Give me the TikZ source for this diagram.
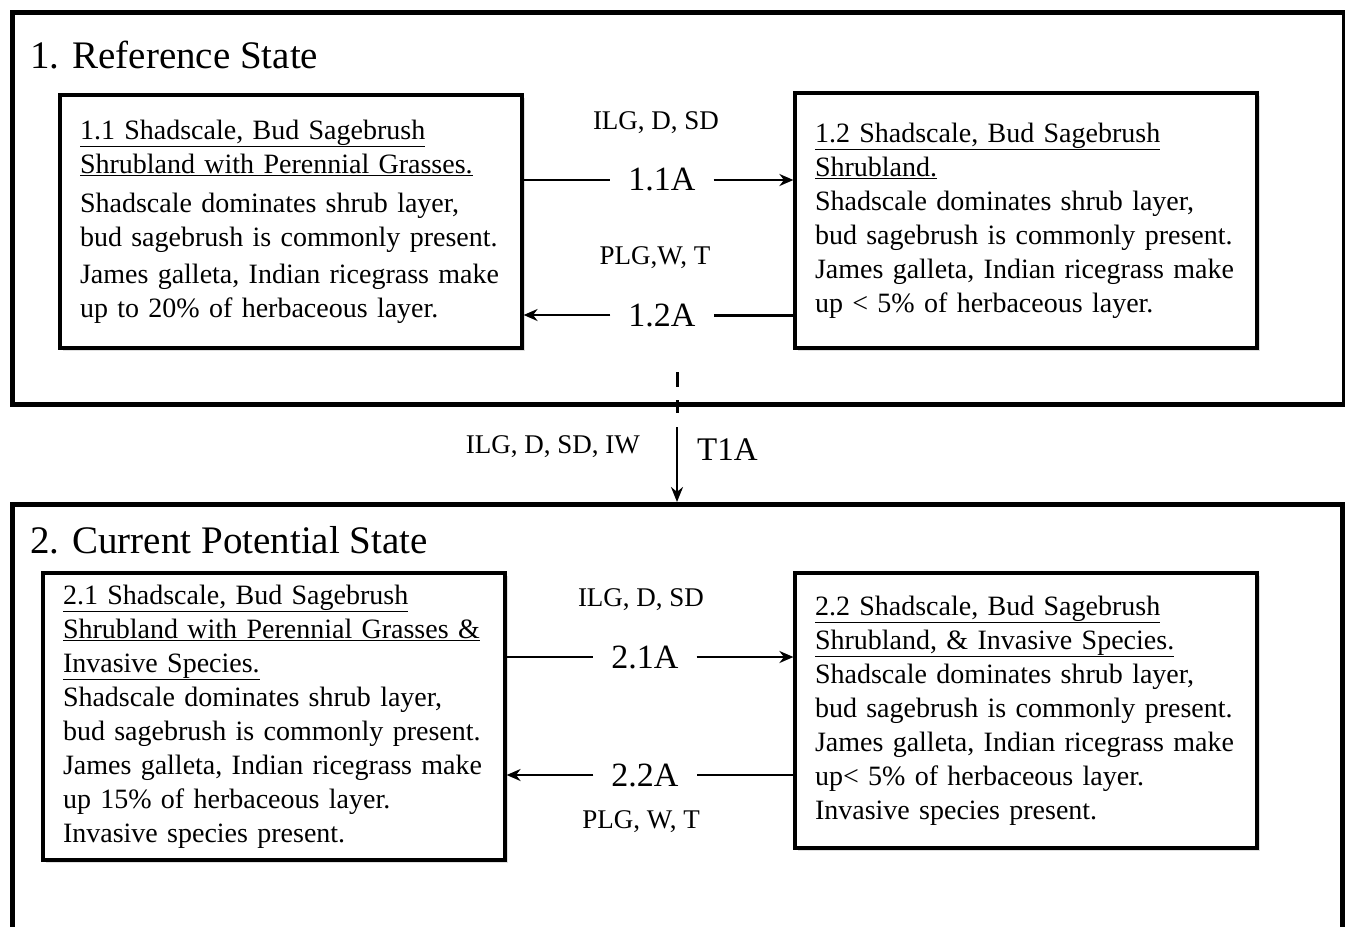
\documentclass[tikz,border=0pt]{standalone}
\usepackage{fontspec}
\setmainfont{Liberation Serif}
\usetikzlibrary{arrows.meta,shadows}
\begin{document}
\begin{tikzpicture}[x=1pt,y=-1pt,
  statebox/.style={draw=black,line width=5pt,anchor=north west,inner sep=0pt},
  phase/.style={draw=black,line width=3.2pt,fill=white,align=left,inner xsep=20pt,inner ysep=0pt,
     font=\fontsize{28}{34}\selectfont,
     drop shadow={opacity=0.25,shadow xshift=3pt,shadow yshift=-3pt}},
  title/.style={anchor=west,inner sep=0pt,font=\fontsize{39}{42}\selectfont},
  cause/.style={inner sep=0pt,font=\fontsize{27}{30}\selectfont},
  code/.style={inner xsep=18pt,inner ysep=0pt,font=\fontsize{34}{36}\selectfont},
  conn/.style={line width=2pt},
  arr/.style={conn,-{Stealth[length=14pt,width=12pt]}}
]
\useasboundingbox (0,0) rectangle (1345,927);
\fill[white] (0,0) rectangle (1345,927);

% outer states
\node[statebox,minimum width=1332pt,minimum height=392pt] (s1) at (10,10) {};
\node[statebox,minimum width=1330pt,minimum height=445pt] (s2) at (10,502) {};
\node[title] (t1) at (30,55) {1. Reference State};
\node[title] (t2) at (30,540) {2. Current Potential State};

% community phases
\node[phase,text width=422pt,minimum height=253pt] (b11) at (291,221.5)
 {\underline{1.1 Shadscale, Bud Sagebrush}\\
  \underline{Shrubland with Perennial Grasses.}\\[5pt]
  Shadscale dominates shrub layer,\\
  bud sagebrush is commonly present.\\[3pt]
  James galleta, Indian ricegrass make\\
  up to 20\% of herbaceous layer.};
\node[phase,text width=422pt,minimum height=255pt] (b12) at (1026,220.5)
 {\underline{1.2 Shadscale, Bud Sagebrush}\\
  \underline{Shrubland.}\\
  Shadscale dominates shrub layer,\\
  bud sagebrush is commonly present.\\
  James galleta, Indian ricegrass make\\
  up < 5\% of herbaceous layer.};
\node[phase,text width=422pt,minimum height=287pt] (b21) at (274,716.5)
 {\underline{2.1 Shadscale, Bud Sagebrush}\\
  \underline{Shrubland with Perennial Grasses \&}\\
  \underline{Invasive Species.}\\
  Shadscale dominates shrub layer,\\
  bud sagebrush is commonly present.\\
  James galleta, Indian ricegrass make\\
  up 15\% of herbaceous layer.\\
  Invasive species present.};
\node[phase,text width=422pt,minimum height=275pt] (b22) at (1026,710.5)
 {\underline{2.2 Shadscale, Bud Sagebrush}\\
  \underline{Shrubland, \& Invasive Species.}\\
  Shadscale dominates shrub layer,\\
  bud sagebrush is commonly present.\\
  James galleta, Indian ricegrass make\\
  up< 5\% of herbaceous layer.\\
  Invasive species present.};

% pathway labels
\node[cause] (c11) at (656,123) {ILG, D, SD};
\node[code] (p11) at (662,180) {1.1A};
\node[cause] (c12) at (655,258) {PLG,W, T};
\node[code] (p12) at (662,315) {1.2A};
\node[cause] (c21) at (641,600) {ILG, D, SD};
\node[code] (p21) at (645,657) {2.1A};
\node[code] (p22) at (645,775) {2.2A};
\node[cause] (c22) at (641,822) {PLG, W, T};
\node[cause,anchor=east] (ct) at (640,447) {ILG, D, SD, IW};
\node[code,anchor=west,inner xsep=0pt,font=\fontsize{33}{36}\selectfont] (pt) at (697,450) {T1A};

% pathway connectors
\draw[conn] (b11.east |- p11) -- (p11.west);
\draw[arr] (p11.east) -- (b12.west |- p11);
\draw[conn,line width=3pt] (b12.west |- p12) -- (p12.east);
\draw[arr] (p12.west) -- (b11.east |- p12);
\draw[conn] (b21.east |- p21) -- (p21.west);
\draw[arr] (p21.east) -- (b22.west |- p21);
\draw[conn] (b22.west |- p22) -- (p22.east);
\draw[arr] (p22.west) -- (b21.east |- p22);

% transition
\coordinate (ts) at (677,372);
\coordinate (tm) at (677,427);
\draw[line width=3pt,dash pattern=on 15pt off 13pt on 13pt off 14pt] (ts) -- (tm);
\draw[line width=2.4pt,-{Stealth[length=15pt,width=12pt]}] (tm) -- (tm |- s2.north);
\end{tikzpicture}
\end{document}
